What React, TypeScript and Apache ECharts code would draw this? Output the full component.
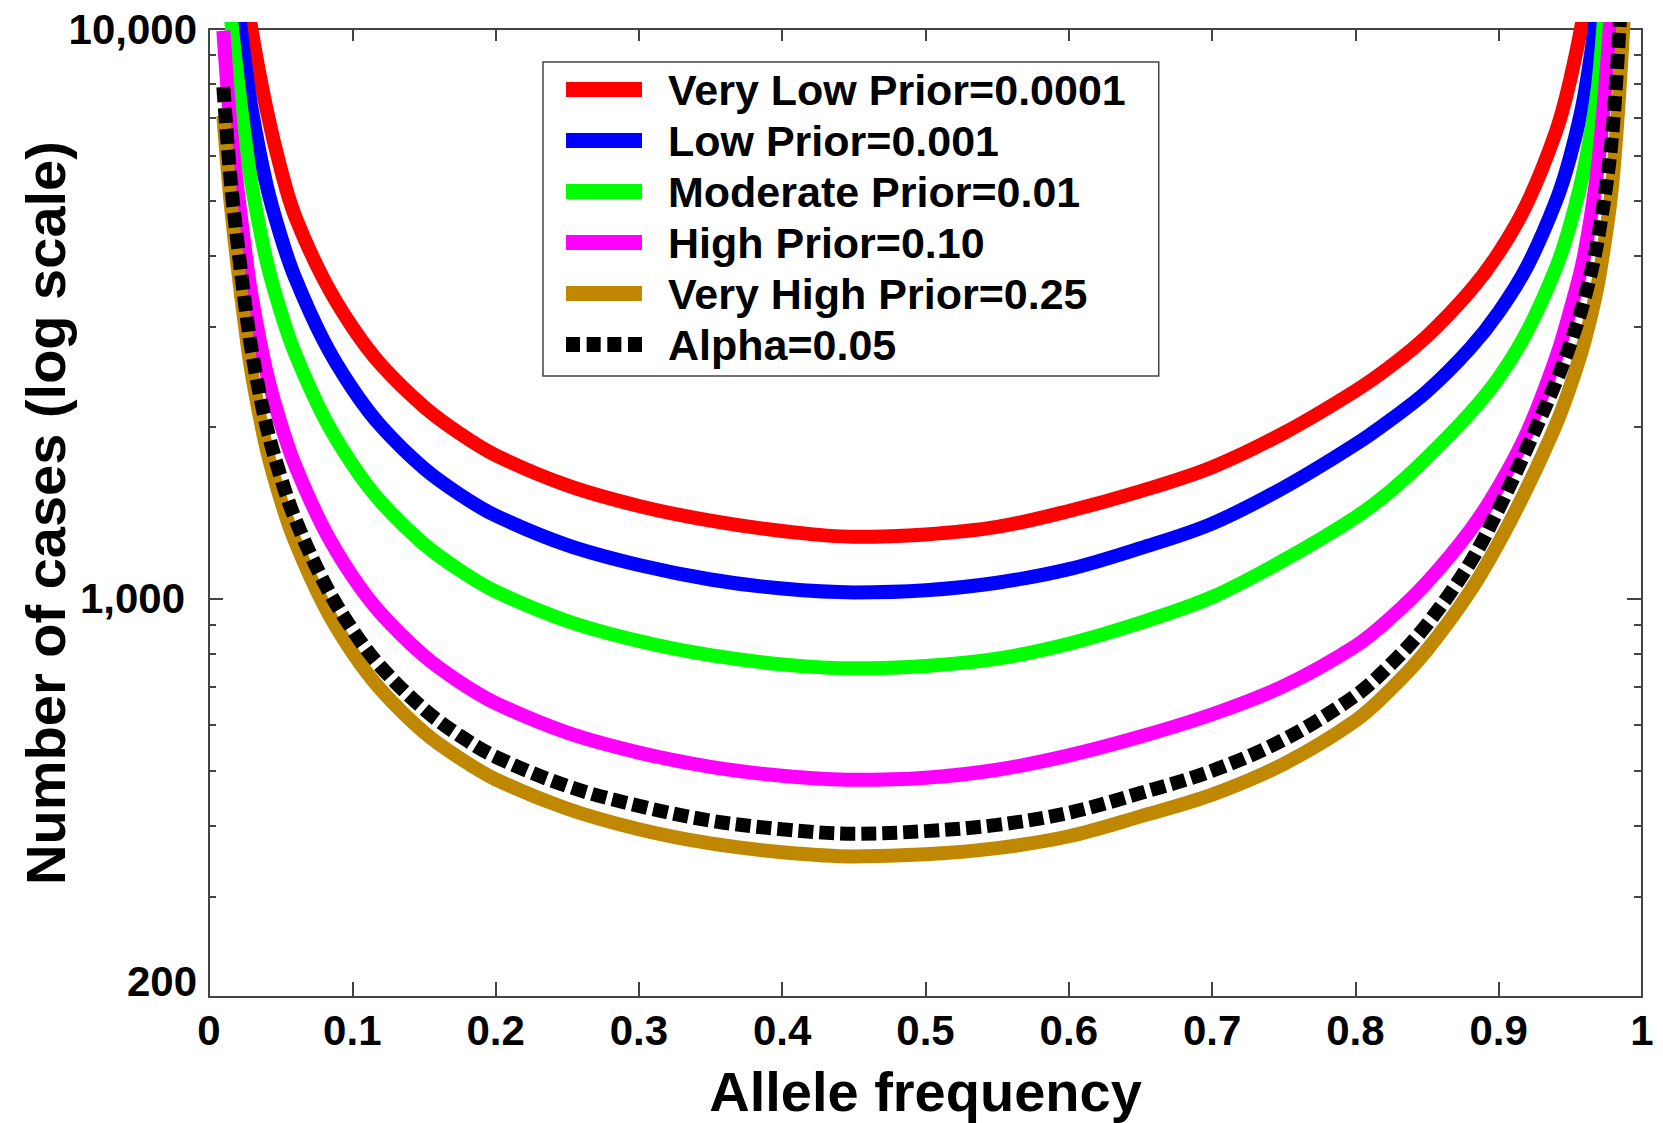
import React, { useEffect, useRef } from 'react';
import * as echarts from 'echarts';

// ---- data ----
const alleleFrequency = [0.01, 0.015, 0.02, 0.025, 0.03, 0.04, 0.05, 0.06, 0.08, 0.1, 0.12, 0.15, 0.175, 0.2, 0.25, 0.3, 0.35, 0.4, 0.45, 0.5, 0.55, 0.6, 0.65, 0.7, 0.75, 0.8, 0.825, 0.85, 0.88, 0.9, 0.92, 0.94, 0.95, 0.96, 0.97, 0.98, 0.99];

const veryLowPrior = [28120, 19910, 15280, 12080, 9863, 7261, 5689, 4699, 3639, 2999, 2576, 2173, 1950, 1786, 1581, 1455, 1371, 1315, 1285, 1297, 1337, 1426, 1545, 1702, 1954, 2317, 2564, 2891, 3467, 4046, 4955, 6607, 8166, 10940, 17780, 31620, 56230];
const lowPrior = [20460, 14490, 11120, 8790, 7178, 5346, 4335, 3664, 2838, 2339, 2009, 1694, 1524, 1400, 1242, 1146, 1081, 1042, 1026, 1035, 1067, 1127, 1227, 1355, 1567, 1866, 2065, 2312, 2751, 3184, 3837, 4989, 5984, 7691, 11530, 19950, 31620];
const moderatePrior = [15070, 10660, 8185, 6471, 5284, 3936, 3192, 2698, 2089, 1722, 1479, 1247, 1122, 1030, 914, 843, 796, 767, 755, 762, 785, 834, 908, 1007, 1169, 1390, 1550, 1770, 2118, 2443, 2951, 3811, 4550, 5754, 8222, 17740, 30060];
const highPrior = [9931, 6792, 5212, 4121, 3365, 2506, 2032, 1718, 1330, 1096, 942, 794, 714, 656, 582, 537, 507, 489, 481, 485, 501, 531, 573, 627, 703, 826, 928, 1069, 1318, 1574, 1963, 2649, 3214, 4046, 5984, 11940, 21480];
const veryHighPrior = [7047, 4989, 3828, 3027, 2472, 1841, 1493, 1262, 977, 805, 692, 583, 525, 482, 428, 394, 372, 359, 353, 356, 365, 383, 415, 453, 513, 611, 695, 813, 1030, 1253, 1570, 2023, 2360, 2838, 3656, 5598, 14060];
const alpha005 = [7907, 5470, 4198, 3319, 2710, 2018, 1637, 1384, 1072, 883, 759, 640, 575, 528, 469, 433, 408, 394, 387, 391, 401, 421, 456, 499, 566, 676, 769, 902, 1156, 1439, 1845, 2404, 2805, 3373, 4395, 6887, 19410];

const seriesNames = ['Very Low Prior=0.0001', 'Low Prior=0.001', 'Moderate Prior=0.01', 'High Prior=0.10', 'Very High Prior=0.25', 'Alpha=0.05'];
const seriesValues = [veryLowPrior, lowPrior, moderatePrior, highPrior, veryHighPrior, alpha005];
const seriesColors = ['#ff0000', '#0000ff', '#00ff00', '#ff00ff', '#bf8800', '#000000'];

const yLabelValues = [200, 1000, 10000];
const yMajorTicks = [1000];
const yMinorTicks = [300, 400, 500, 600, 700, 800, 900, 2000, 3000, 4000, 5000, 6000, 7000, 8000, 9000];
const yMin = 200;
const yMax = 10000;

const FONT = '"Liberation Sans", Arial, Helvetica, sans-serif';
const ALPHA_ICON = 'path://M0,0H14V15H0Z M20.67,0H34.67V15H20.67Z M41.33,0H55.33V15H41.33Z M62,0H76V15H62Z';

export default function App() {
  const ref = useRef<HTMLDivElement>(null);

  useEffect(() => {
    document.body.style.margin = '0';
    const chart = echarts.init(ref.current!, undefined, { renderer: 'svg', width: 1663, height: 1123 });

    const axisLineStyle = { color: '#444', width: 2 };
    const lo = Math.log10(yMin);
    const hi = Math.log10(yMax);
    const labelFont = { fontFamily: FONT, fontSize: 42, fontWeight: 'bold' as const, color: '#000', lineHeight: 42 };

    const yBase = (position: string, tickVals: number[], len: number, showLine: boolean) => ({
      type: 'value',
      position,
      min: lo,
      max: hi,
      splitLine: { show: false },
      axisLine: { show: showLine, lineStyle: axisLineStyle },
      axisTick: { show: true, inside: true, length: len, customValues: tickVals.map((v) => Math.log10(v)), lineStyle: axisLineStyle },
      axisLabel: { show: false },
    });

    const option: any = {
      animation: false,
      backgroundColor: '#ffffff',
      grid: { left: 209, right: 21, top: 29, bottom: 126, containLabel: false, outerBoundsMode: 'none' },
      legend: {
        orient: 'vertical',
        left: 543,
        top: 62,
        padding: [6, 33, 10, 23],
        itemGap: 8,
        itemWidth: 76,
        itemHeight: 15,
        borderColor: '#444',
        borderWidth: 1.5,
        backgroundColor: '#fff',
        selectedMode: false,
        textStyle: { fontFamily: FONT, fontSize: 43, fontWeight: 'bold', color: '#000', padding: [0, 0, 0, 21] },
        data: seriesNames.map((n, i) => ({
          name: n,
          icon: i === 5 ? ALPHA_ICON : 'rect',
          itemStyle: { color: seriesColors[i], borderWidth: 0 },
        })),
      },
      xAxis: [
        {
          type: 'value',
          position: 'bottom',
          min: 0,
          max: 1,
          interval: 0.1,
          splitLine: { show: false },
          axisLine: { show: true, lineStyle: axisLineStyle },
          axisTick: { show: true, inside: true, length: 15, lineStyle: axisLineStyle },
          axisLabel: { show: true, margin: 12, ...labelFont },
          name: 'Allele frequency',
          nameLocation: 'middle',
          nameGap: 66,
          nameMoveOverlap: false,
          nameTextStyle: { fontFamily: FONT, fontSize: 56, fontWeight: 'bold', color: '#000' },
        },
        {
          type: 'value',
          position: 'top',
          min: 0,
          max: 1,
          interval: 0.1,
          splitLine: { show: false },
          axisLine: { show: true, lineStyle: axisLineStyle },
          axisTick: { show: true, inside: true, length: 12, lineStyle: axisLineStyle },
          axisLabel: { show: false },
        },
      ],
      yAxis: [
        {
          ...yBase('left', yMajorTicks, 14, true),
          axisLabel: {
            show: true,
            margin: 12,
            customValues: yLabelValues.map((v) => Math.log10(v)),
            ...labelFont,
            formatter: (v: number) => {
              const n = Math.round(Math.pow(10, v));
              const s = n.toLocaleString('en-US');
              if (n === 1000) return '{k|' + s + '}';
              if (n === 200) return '{m|' + s + '}\n{s| }';
              return '{t|' + s + '}';
            },
            rich: {
              t: { ...labelFont },
              k: { ...labelFont, padding: [0, 12, 0, 0] },
              m: { ...labelFont },
              s: { fontSize: 1, lineHeight: 32 },
            },
          },
          name: 'Number of cases (log scale)',
          nameLocation: 'middle',
          nameGap: 136,
          nameMoveOverlap: false,
          nameTextStyle: { fontFamily: FONT, fontSize: 56, fontWeight: 'bold', color: '#000' },
        },
        yBase('left', yMinorTicks, 7, false),
        yBase('right', yMajorTicks, 15, true),
        yBase('right', yMinorTicks, 8, false),
      ],
      series: seriesNames.map((n, i) => ({
        type: 'line',
        name: n,
        xAxisIndex: 0,
        yAxisIndex: 0,
        data: alleleFrequency.map((x, j) => [x, Math.log10(seriesValues[i][j])]),
        symbol: 'none',
        showSymbol: false,
        smooth: 0.35,
        clip: true,
        z: 2 + i,
        itemStyle: { color: seriesColors[i] },
        lineStyle: {
          color: seriesColors[i],
          width: 14,
          type: i === 5 ? [15, 6] : 'solid',
          cap: 'butt',
        },
      })),
    };

    chart.setOption(option);
    return () => chart.dispose();
  }, []);

  return <div ref={ref} style={{ width: 1663, height: 1123, background: '#fff' }} />;
}
